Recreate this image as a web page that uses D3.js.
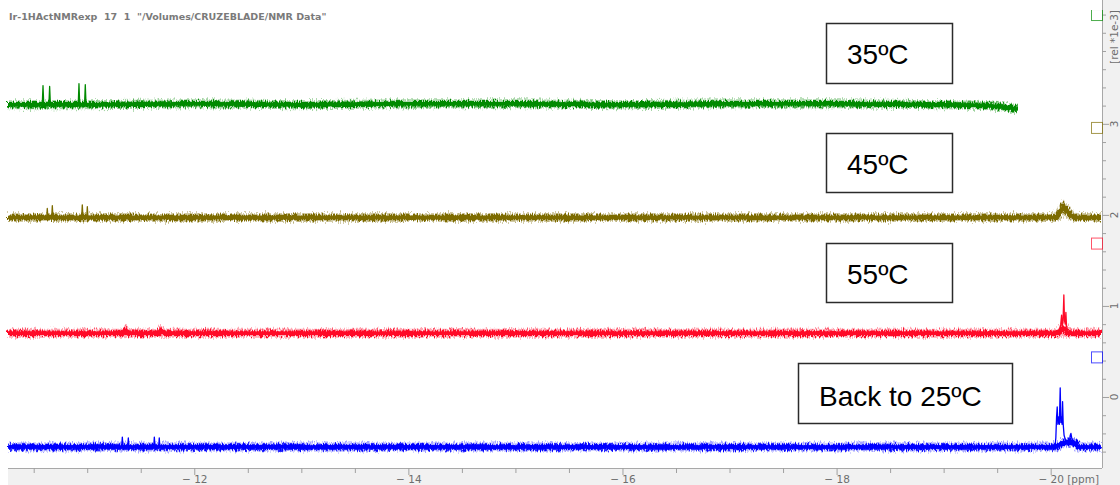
<!DOCTYPE html>
<html>
<head>
<meta charset="utf-8">
<script src="https://cdn.jsdelivr.net/npm/d3@7"></script>
<style>
  body { margin: 0; background: #fff; }
  svg { display: block; }
</style>
</head>
<body>
<svg id="chart" width="1120" height="485"></svg>
<script>
const title = 'Ir-1HActNMRexp  17  1  "/Volumes/CRUZEBLADE/NMR Data"';
const spectrumLabels = ["35ºC", "45ºC", "55ºC", "Back to 25ºC"];
const spectrumColors = ["#008a00", "#7d6b00", "#ff0a28", "#0000ff"];
const ppmLabels = [-12, -14, -16, -18, -20];
const relLabels = [0, 1, 2, 3];
const markerLevels = [4.14, 2.90, 1.63, 0.38];

// baselines, [ppm, rel *1e-3]
const base35 = [[-10.26, 3.21], [-11, 3.21], [-12, 3.22], [-13, 3.21], [-14, 3.22], [-15, 3.22],
  [-16, 3.21], [-17, 3.22], [-18, 3.22], [-19, 3.21], [-19.4, 3.20], [-19.6, 3.18], [-19.69, 3.16]];
const base45 = [[-10.26, 1.97], [-12, 1.97], [-14, 1.97], [-16, 1.97], [-18, 1.97], [-20.05, 1.97],
  [-20.09, 2.03], [-20.12, 2.09], [-20.15, 2.04], [-20.19, 1.99], [-20.23, 1.97], [-20.47, 1.97]];
const base55 = [[-10.26, 0.70], [-11.33, 0.70], [-11.36, 0.73], [-11.39, 0.70], [-11.66, 0.70],
  [-11.69, 0.73], [-11.72, 0.70], [-14, 0.70], [-16, 0.70], [-18, 0.70], [-20.08, 0.70],
  [-20.10, 0.74], [-20.14, 0.74], [-20.16, 0.70], [-20.47, 0.70]];
const base25 = [[-10.26, -0.55], [-12, -0.55], [-14, -0.55], [-16, -0.55], [-18, -0.55],
  [-20.05, -0.55], [-20.13, -0.50], [-20.22, -0.50], [-20.26, -0.55], [-20.47, -0.55]];

// sharp signals, each group starts and ends on the baseline
const peaks35 = [
  [[-10.580, 3.21], [-10.587, 3.42], [-10.594, 3.21]],
  [[-10.642, 3.21], [-10.649, 3.41], [-10.656, 3.21]],
  [[-10.916, 3.21], [-10.923, 3.44], [-10.930, 3.21]],
  [[-10.975, 3.21], [-10.982, 3.43], [-10.989, 3.21]]
];
const peaks45 = [
  [[-10.621, 1.97], [-10.627, 2.07], [-10.633, 1.97]],
  [[-10.668, 1.97], [-10.674, 2.10], [-10.680, 1.97]],
  [[-10.948, 1.97], [-10.954, 2.11], [-10.960, 1.97]],
  [[-10.995, 1.97], [-11.001, 2.09], [-11.007, 1.97]]
];
const peaks55 = [
  [[-20.085, 0.71], [-20.094, 0.80], [-20.102, 0.90], [-20.108, 0.78], [-20.115, 0.82],
   [-20.123, 1.12], [-20.129, 0.84], [-20.136, 0.80], [-20.142, 0.93], [-20.148, 0.78], [-20.16, 0.71]]
];
const peaks25 = [
  [[-11.322, -0.55], [-11.328, -0.44], [-11.334, -0.55]],
  [[-11.378, -0.55], [-11.384, -0.45], [-11.390, -0.55]],
  [[-11.621, -0.55], [-11.627, -0.44], [-11.633, -0.55]],
  [[-11.667, -0.55], [-11.673, -0.45], [-11.679, -0.55]],
  [[-20.040, -0.55], [-20.048, -0.45], [-20.055, -0.22], [-20.061, -0.11], [-20.067, -0.30],
   [-20.074, -0.22], [-20.081, -0.30], [-20.089, 0.10], [-20.095, -0.28], [-20.102, -0.22],
   [-20.106, -0.30], [-20.111, -0.05], [-20.117, -0.30], [-20.125, -0.42], [-20.140, -0.48],
   [-20.175, -0.48], [-20.183, -0.42], [-20.189, -0.40], [-20.195, -0.44], [-20.205, -0.49],
   [-20.25, -0.54]]
];

const baselines = [base35, base45, base55, base25];
const peakSets = [peaks35, peaks45, peaks55, peaks25];

const svg = d3.select("#chart");
const W = 1120, H = 485;
const plotLeft = 8, plotRight = 1102, plotBottom = 468;

const x = d3.scaleLinear().domain([-10.26, -20.47]).range([plotLeft, 1101]);
const y = d3.scaleLinear().domain([-0.78, 4.36]).range([plotBottom, 0]);

// noise texture for the baseline bands
const defs = svg.append("defs");
const f = defs.append("filter")
    .attr("id", "noise")
    .attr("filterUnits", "userSpaceOnUse")
    .attr("x", 0).attr("y", 0).attr("width", W).attr("height", H)
    .attr("color-interpolation-filters", "sRGB");
f.append("feTurbulence")
    .attr("type", "fractalNoise")
    .attr("baseFrequency", "1.4 0.3")
    .attr("numOctaves", 1)
    .attr("seed", 4)
    .attr("result", "t");
f.append("feDisplacementMap")
    .attr("in", "SourceGraphic")
    .attr("in2", "t")
    .attr("scale", 9)
    .attr("xChannelSelector", "R")
    .attr("yChannelSelector", "G");

defs.append("clipPath").attr("id", "markClip")
    .append("rect").attr("x", 0).attr("y", 10).attr("width", W).attr("height", plotBottom - 10);

// grey frame outside the plot
svg.append("rect").attr("x", plotLeft).attr("y", plotBottom).attr("width", W - plotLeft).attr("height", H - plotBottom).attr("fill", "#f1f1f1");
svg.append("rect").attr("x", plotRight).attr("y", 0).attr("width", W - plotRight).attr("height", H).attr("fill", "#f1f1f1");

const line = d3.line().x(d => x(d[0])).y(d => y(d[1]));

baselines.forEach((b, i) => {
    const g = svg.append("g").attr("filter", "url(#noise)");
    g.append("path").attr("d", line(b)).attr("fill", "none")
        .attr("stroke", spectrumColors[i]).attr("stroke-opacity", 0.35).attr("stroke-width", 9);
    g.append("path").attr("d", line(b)).attr("fill", "none")
        .attr("stroke", spectrumColors[i]).attr("stroke-width", 5.5);
    svg.append("path").attr("d", line(b)).attr("fill", "none")
        .attr("stroke", spectrumColors[i]).attr("stroke-width", 3.5);
    peakSets[i].forEach(p => {
        svg.append("path").attr("d", line(p)).attr("fill", "none")
            .attr("stroke", spectrumColors[i]).attr("stroke-width", 1.3)
            .attr("stroke-linejoin", "round");
    });
});

// bottom axis
const ppmMinor = d3.range(-10.5, -20.01, -0.5);
const xAxis = svg.append("g")
    .attr("transform", `translate(0,${plotBottom})`)
    .call(d3.axisBottom(x).tickValues(ppmMinor).tickSize(5).tickSizeOuter(0).tickPadding(3)
        .tickFormat(d => ppmLabels.includes(d) ? "\u2212 " + Math.abs(d) : ""));
xAxis.select(".domain").attr("stroke", "#a8a8a8").attr("d", `M${plotLeft},0.5H${plotRight}`);
xAxis.selectAll(".tick line").attr("stroke", "#a0a0a0")
    .attr("y2", d => ppmLabels.includes(d) ? 7 : 5);
xAxis.selectAll(".tick text").attr("fill", "#6e6e6e")
    .attr("font-family", "DejaVu Sans").attr("font-size", 10.5);
xAxis.append("text").attr("x", 1099).attr("y", 15).attr("text-anchor", "end")
    .attr("fill", "#6e6e6e").attr("font-family", "DejaVu Sans").attr("font-size", 10.5)
    .text("[ppm]");

// right axis
const relMinor = d3.range(-0.6, 4.21, 0.2).map(v => Math.round(v * 10) / 10);
const yAxis = svg.append("g")
    .attr("transform", `translate(${plotRight},0)`)
    .call(d3.axisRight(y).tickValues(relMinor).tickSize(4).tickSizeOuter(0).tickFormat(""));
yAxis.select(".domain").attr("stroke", "#a8a8a8").attr("d", `M0.5,0V${plotBottom}`);
yAxis.selectAll(".tick line").attr("stroke", "#a0a0a0")
    .attr("x2", d => relLabels.includes(d) ? 7 : 4);
yAxis.selectAll(".rel-label")
    .data(relLabels)
    .join("text")
    .attr("transform", d => `translate(12.5,${y(d)}) rotate(-90)`)
    .attr("text-anchor", "middle").attr("dy", "0.35em")
    .attr("fill", "#6e6e6e").attr("font-family", "DejaVu Sans").attr("font-size", 10.5)
    .text(d => d);
yAxis.append("text")
    .attr("transform", "translate(12.5,37) rotate(-90)")
    .attr("text-anchor", "middle").attr("dy", "0.35em")
    .attr("fill", "#6e6e6e").attr("font-family", "DejaVu Sans").attr("font-size", 10.5)
    .text("[rel *1e-3]");

// scaling markers
svg.append("g").attr("clip-path", "url(#markClip)")
    .selectAll("rect")
    .data(markerLevels)
    .join("rect")
    .attr("x", plotRight - 10.5)
    .attr("y", d => y(d) - 10.5)
    .attr("width", 11).attr("height", 11)
    .attr("fill", "none")
    .attr("stroke", (d, i) => spectrumColors[i])
    .attr("stroke-opacity", 0.7);

// title
svg.append("text").attr("x", 9).attr("y", 20)
    .attr("fill", "#7a7a7a").attr("font-family", "DejaVu Sans").attr("font-weight", "bold")
    .attr("font-size", 9.5).attr("xml:space", "preserve").style("white-space", "pre")
    .text(title);

// annotation boxes
const boxes = [
    {x: 826, y: 23, w: 126, h: 60, tx: 847, ty: 64},
    {x: 826, y: 133, w: 126, h: 59, tx: 847, ty: 174},
    {x: 826, y: 243, w: 126, h: 59, tx: 847, ty: 284},
    {x: 798, y: 363, w: 214, h: 60, tx: 819, ty: 406}
];
const box = svg.append("g").selectAll("g")
    .data(spectrumLabels)
    .join("g");
box.append("rect")
    .attr("x", (d, i) => boxes[i].x + 0.5).attr("y", (d, i) => boxes[i].y + 0.5)
    .attr("width", (d, i) => boxes[i].w).attr("height", (d, i) => boxes[i].h)
    .attr("fill", "#fff").attr("stroke", "#2b2b2b").attr("stroke-width", 1.5);
box.append("text")
    .attr("x", (d, i) => boxes[i].tx).attr("y", (d, i) => boxes[i].ty)
    .attr("font-family", "Liberation Sans").attr("font-size", 28).attr("fill", "#000")
    .text(d => d);
</script>
</body>
</html>
